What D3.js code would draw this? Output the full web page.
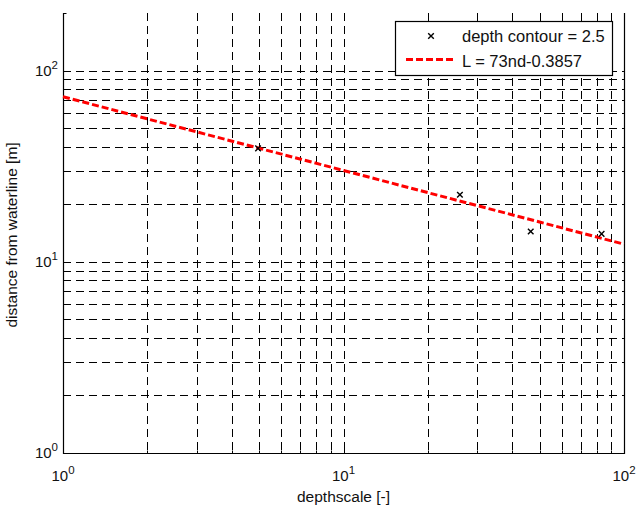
<!DOCTYPE html>
<html>
<head>
<meta charset="utf-8">
<script src="https://cdn.jsdelivr.net/npm/d3@7"></script>
<style>
  body { margin: 0; background: #fff; }
  svg { display: block; font-family: "Liberation Sans", Arial, sans-serif; }
</style>
</head>
<body>
<svg id="chart" width="636" height="509"></svg>
<script>
// Measured points at depth contour 2.5
const depthScale = [4.96, 26.0, 46.5, 83.2];
const distance = [39.2, 22.4, 14.4, 14.0];

// Fitted power law L = a * d^b
const fitA = 73;
const fitB = -0.3857;
const fitD = [1, 2, 5, 10, 20, 50, 100];

const xDomain = [1, 100];
const yDomain = [1, 200];
const xMajor = [1, 10, 100];
const yMajor = [1, 10, 100];
const xLabel = "depthscale [-]";
const yLabel = "distance from waterline [m]";
const legendLabels = ["depth contour = 2.5", "L = 73nd-0.3857"];

const W = 636, H = 509;
const m = { left: 63, right: 12, top: 13, bottom: 56 };
const svg = d3.select("#chart");

const x = d3.scaleLog().domain(xDomain).range([m.left, W - m.right]);
const y = d3.scaleLog().domain(yDomain).range([H - m.bottom, m.top]);

// every 1..9 multiple within each decade
function logTicks(dom) {
  const out = [];
  for (let e = Math.floor(Math.log10(dom[0])); e <= Math.ceil(Math.log10(dom[1])); e++) {
    for (let k = 1; k <= 9; k++) {
      const v = k * Math.pow(10, e);
      if (v >= dom[0] - 1e-9 && v <= dom[1] + 1e-9) out.push(v);
    }
  }
  return out;
}
const xGrid = logTicks(xDomain).filter(v => v > xDomain[0] && v < xDomain[1]);
const yGrid = logTicks(yDomain).filter(v => v > yDomain[0] && v < yDomain[1]);

const g = svg.append("g");

// dashed grid
g.selectAll("line.gx").data(xGrid).join("line")
  .attr("x1", d => Math.round(x(d)) + 0.5).attr("x2", d => Math.round(x(d)) + 0.5)
  .attr("y1", m.top).attr("y2", H - m.bottom)
  .attr("stroke", "#000").attr("stroke-width", 1).attr("stroke-dasharray", "8,5");
g.selectAll("line.gy").data(yGrid).join("line")
  .attr("y1", d => Math.round(y(d)) + 0.5).attr("y2", d => Math.round(y(d)) + 0.5)
  .attr("x1", m.left).attr("x2", W - m.right)
  .attr("stroke", "#000").attr("stroke-width", 1).attr("stroke-dasharray", "8,5");

// axes frame (left, bottom, right)
const x0 = m.left + 0.5, x1 = W - m.right + 0.5, yb = H - m.bottom + 0.5, yt = m.top;
g.append("path")
  .attr("d", `M${x0},${yt}V${yb}H${x1}V${yt}`)
  .attr("fill", "none").attr("stroke", "#000").attr("stroke-width", 1.2);

// inward ticks
g.selectAll("line.tx").data(logTicks(xDomain)).join("line")
  .attr("x1", d => Math.round(x(d)) + 0.5).attr("x2", d => Math.round(x(d)) + 0.5)
  .attr("y1", yb).attr("y2", d => yb - (xMajor.includes(d) ? 6 : 3))
  .attr("stroke", "#000");
g.selectAll("line.ty").data(logTicks(yDomain)).join("line")
  .attr("y1", d => Math.round(y(d)) + 0.5).attr("y2", d => Math.round(y(d)) + 0.5)
  .attr("x1", x0).attr("x2", d => x0 + (yMajor.includes(d) ? 6 : 3))
  .attr("stroke", "#000");

// tick labels: 10 with superscript exponent
function powLabel(sel, v) {
  const e = Math.round(Math.log10(v));
  sel.append("tspan").text("10");
  sel.append("tspan").attr("dy", -7).attr("font-size", 11.5).text(e);
}
xMajor.forEach(v => {
  const t = g.append("text").attr("x", x(v)).attr("y", 481)
    .attr("text-anchor", "middle").attr("font-size", 15).attr("fill", "#111");
  powLabel(t, v);
});
yMajor.forEach(v => {
  const t = g.append("text").attr("x", 58).attr("y", y(v) + 5)
    .attr("text-anchor", "end").attr("font-size", 15).attr("fill", "#111");
  powLabel(t, v);
});

// axis titles
g.append("text").attr("x", x(Math.sqrt(xDomain[0] * xDomain[1]))).attr("y", 502)
  .attr("text-anchor", "middle").attr("font-size", 15.5).attr("fill", "#111").text(xLabel);
g.append("text").attr("transform", `translate(17,${(m.top + H - m.bottom) / 2 + 2}) rotate(-90)`)
  .attr("text-anchor", "middle").attr("font-size", 15.5).attr("fill", "#111").text(yLabel);

// fitted line
const fitLine = d3.line().x(d => x(d)).y(d => y(fitA * Math.pow(d, fitB)));
g.append("path").datum(fitD).attr("d", fitLine)
  .attr("fill", "none").attr("stroke", "#ff0000").attr("stroke-width", 3)
  .attr("stroke-dasharray", "7,3");

// cross markers
function cross(sel, cx, cy, r) {
  sel.append("path")
    .attr("d", `M${cx - r},${cy - r}L${cx + r},${cy + r}M${cx - r},${cy + r}L${cx + r},${cy - r}`)
    .attr("stroke", "#000").attr("stroke-width", 1.4).attr("fill", "none");
}
depthScale.forEach((d, i) => cross(g, x(d), y(distance[i]), 2.8));

// legend
const lg = g.append("g");
lg.append("rect").attr("x", 395.5).attr("y", 21.5).attr("width", 217).attr("height", 54)
  .attr("fill", "#fff").attr("stroke", "#000").attr("stroke-width", 1.2);
cross(lg, 431, 36, 2.8);
lg.append("line").attr("x1", 406).attr("x2", 455).attr("y1", 59.5).attr("y2", 59.5)
  .attr("stroke", "#ff0000").attr("stroke-width", 3).attr("stroke-dasharray", "7,3");
lg.append("text").attr("x", 462).attr("y", 42).attr("font-size", 16.5).attr("fill", "#111").text(legendLabels[0]);
lg.append("text").attr("x", 462).attr("y", 66.5).attr("font-size", 16.5).attr("fill", "#111").text(legendLabels[1]);
</script>
</body>
</html>
